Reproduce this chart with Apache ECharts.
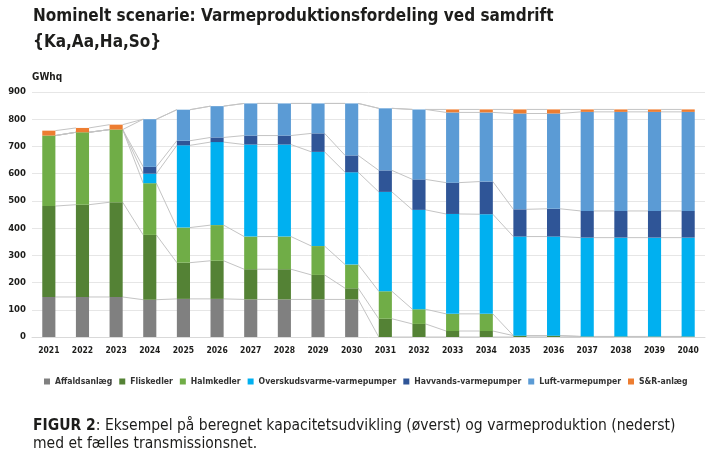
<!DOCTYPE html>
<html>
<head>
<meta charset="utf-8">
<script src="https://cdn.jsdelivr.net/npm/echarts@6/dist/echarts.min.js"></script>
<style>
html,body{margin:0;padding:0;background:#fff;}
#chart{width:711px;height:465px;}
</style>
</head>
<body>
<div id="chart"></div>
<script>
const years = ['2021','2022','2023','2024','2025','2026','2027','2028','2029','2030','2031','2032','2033','2034','2035','2036','2037','2038','2039','2040'];
const seriesNames = ['Affaldsanlæg','Fliskedler','Halmkedler','Overskudsvarme-varmepumper','Havvands-varmepumper','Luft-varmepumper','S&R-anlæg'];
const affald   = [147,147,147,137,140,140,138,138,138,138,0,0,0,0,0,0,0,0,0,0];
const flis     = [334,339,348,238,133,140,111,111,90,41,67,48,22,22,5,5,2,2,2,2];
const halm     = [259,266,267,190,129,131,120,120,106,87,101,54,63,63,0,0,0,0,0,0];
const overskud = [0,0,0,35,302,305,338,338,346,339,365,365,367,366,364,364,363,363,363,363];
const havvands = [0,0,0,25,17,17,33,33,68,62,79,112,115,120,100,102,98,98,98,98];
const luft     = [0,0,0,175,114,115,118,118,110,191,228,257,258,254,352,350,364,364,364,364];
const sr       = [18,16,18,0,0,0,0,0,0,0,0,0,11,11,15,15,9,9,9,9];
const yTicks = [0,100,200,300,400,500,600,700,800,900];
const colors = ['#808080','#548235','#70ad47','#00b0f0','#2f5597','#5b9bd5','#ed7d31'];

const values = [affald, flis, halm, overskud, havvands, luft, sr];
const cum = [];
values.forEach((arr, s) => {
  cum.push(arr.map((v, i) => (s > 0 ? cum[s-1][i] : 0) + v));
});

const FONT = '"Liberation Sans Narrow", "DejaVu Sans Condensed", "Liberation Sans", sans-serif';
const BARW = 0.39;

const barSeries = seriesNames.map((name, s) => ({
  name: name,
  type: 'bar',
  stack: 'total',
  barWidth: (BARW*100) + '%',
  itemStyle: { color: colors[s] },
  data: values[s],
  z: 3
}));

const lineSeries = {
  type: 'custom',
  silent: true,
  z: 2,
  data: years.map((y, i) => [i, 0]),
  encode: { x: 0, y: 1 },
  renderItem: function (params, api) {
    const i = params.dataIndex;
    if (i >= years.length - 1) return null;
    const bw = api.size([1, 0])[0] * BARW;
    const children = [];
    for (let s = 0; s < cum.length; s++) {
      const p1 = api.coord([i, cum[s][i]]);
      const p2 = api.coord([i + 1, cum[s][i + 1]]);
      children.push({
        type: 'line',
        shape: { x1: p1[0] + bw / 2, y1: p1[1], x2: p2[0] - bw / 2, y2: p2[1] },
        style: { stroke: '#c4c4c4', lineWidth: 1 }
      });
    }
    return { type: 'group', children: children };
  }
};

const chart = echarts.init(document.getElementById('chart'), null, { renderer: 'canvas' });
chart.setOption({
  animation: false,
  backgroundColor: '#ffffff',
  title: {
    text: 'Nominelt scenarie: Varmeproduktionsfordeling ved samdrift\n{Ka,Aa,Ha,So}',
    left: 33, top: 4, padding: 0,
    textStyle: { fontFamily: FONT, fontWeight: 'bold', fontSize: 17, lineHeight: 26, color: '#1d1d1b' }
  },
  grid: { left: 32, right: 6, top: 92, bottom: 128, containLabel: false },
  legend: {
    data: seriesNames,
    left: 44, right: 0, top: 377, padding: 0,
    icon: 'rect', itemWidth: 6, itemHeight: 6, itemGap: 7,
    textStyle: { fontFamily: FONT, fontWeight: 'bold', fontSize: 8.6, color: '#333' }
  },
  xAxis: {
    type: 'category',
    data: years,
    axisTick: { show: false },
    axisLine: { show: true, lineStyle: { color: '#d9d9d9' } },
    axisLabel: { fontFamily: FONT, fontWeight: 'bold', fontSize: 8.5, color: '#1d1d1b', margin: 9 }
  },
  yAxis: {
    type: 'value',
    min: yTicks[0], max: yTicks[yTicks.length - 1], interval: 100,
    name: 'GWhq',
    nameLocation: 'end',
    nameGap: 10,
    nameTextStyle: { fontFamily: FONT, fontWeight: 'bold', fontSize: 10, color: '#1d1d1b', align: 'left' },
    axisLine: { show: false },
    axisTick: { show: false },
    axisLabel: { fontFamily: FONT, fontWeight: 'bold', fontSize: 9.5, color: '#1d1d1b', margin: 6 },
    splitLine: { lineStyle: { color: '#e6e6e6' } }
  },
  graphic: [{
    type: 'text',
    left: 33, top: 417,
    style: {
      text: '{b|FIGUR 2}{r|: Eksempel på beregnet kapacitetsudvikling (øverst) og varmeproduktion (nederst)}\n{r|med et fælles transmissionsnet.}',
      fill: '#1d1d1b',
      fontFamily: FONT, fontSize: 15.5, lineHeight: 18,
      rich: {
        b: { fontFamily: FONT, fontSize: 15.5, fontWeight: 'bold', fill: '#1d1d1b', lineHeight: 18 },
        r: { fontFamily: FONT, fontSize: 15.5, fontWeight: 'normal', fill: '#1d1d1b', lineHeight: 18 }
      }
    }
  }],
  series: barSeries.concat([lineSeries])
});
</script>
</body>
</html>
